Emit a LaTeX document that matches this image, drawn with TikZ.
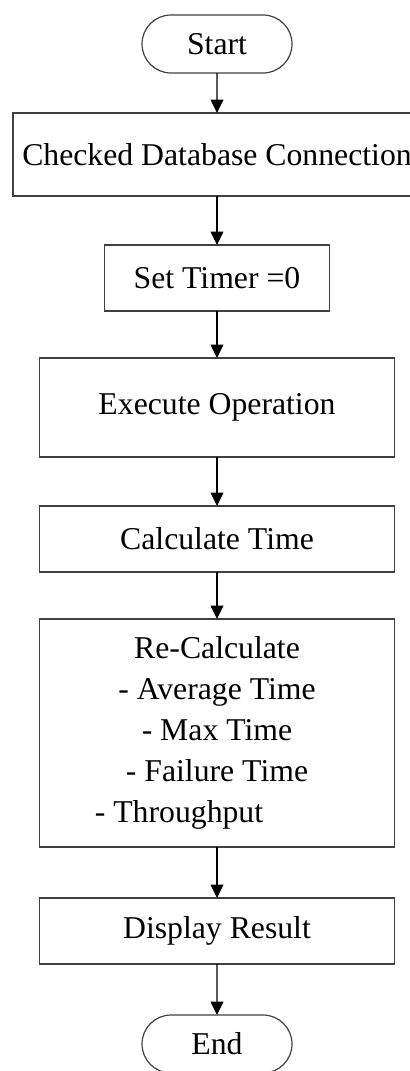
\documentclass[tikz,border=0pt]{standalone}
\usepackage{fontspec}
\setmainfont{Liberation Serif}
\usetikzlibrary{
    arrows.meta,
    positioning,
    shapes.misc
}

\begin{document}
\begin{tikzpicture}[
    font=\fontsize{23.8}{30.75}\selectfont,
    procblock/.style = {
        draw=black!75,
        line width=1.2pt,
        rectangle,
        fill=white,
        inner sep=0pt,
        outer sep=0pt,
        align=center,
        minimum width=266.25pt,
        minimum height=49.5pt
    },
    termblock/.style = {
        draw=black!75,
        line width=0.9pt,
        rounded rectangle,
        inner sep=0pt,
        outer sep=0pt,
        minimum width=112.5pt,
        minimum height=43.5pt
    },
    flow/.style = {
        -{Triangle[length=10pt,width=9.5pt]},
        line width=1.1pt
    },
]
    \clip (0,0) rectangle (307.5pt,-803.25pt);

    \node [termblock] (start) at (162.75pt,-33pt) {Start};
    \node [procblock, below=30pt of start,
        minimum width=306pt, minimum height=62.25pt] (check_db)
        {Checked Database Connection};
    \node [procblock, below=36.75pt of check_db,
        minimum width=168.75pt] (set_timer) {Set Timer =0};
    \node [procblock, below=35.25pt of set_timer,
        minimum height=74.25pt] (exec_op) {Execute Operation};
    \node [procblock, below=36.75pt of exec_op] (calc_time) {Calculate Time};
    \node [procblock, below=35.25pt of calc_time,
        minimum height=171pt] (recalc)
        {Re-Calculate\\ - Average Time\\ - Max Time\\ - Failure Time\\
         - Throughput\hspace*{57pt}};
    \node [procblock, below=38.25pt of recalc] (display) {Display Result};
    \node [termblock, below=38.25pt of display] (end) {End};

    \draw [flow] (start) -- (check_db);
    \draw [flow] (check_db) -- (set_timer);
    \draw [flow] (set_timer) -- (exec_op);
    \draw [flow] (exec_op) -- (calc_time);
    \draw [flow] (calc_time) -- (recalc);
    \draw [flow] (recalc) -- (display);
    \draw [flow] (display) -- (end);
\end{tikzpicture}
\end{document}
